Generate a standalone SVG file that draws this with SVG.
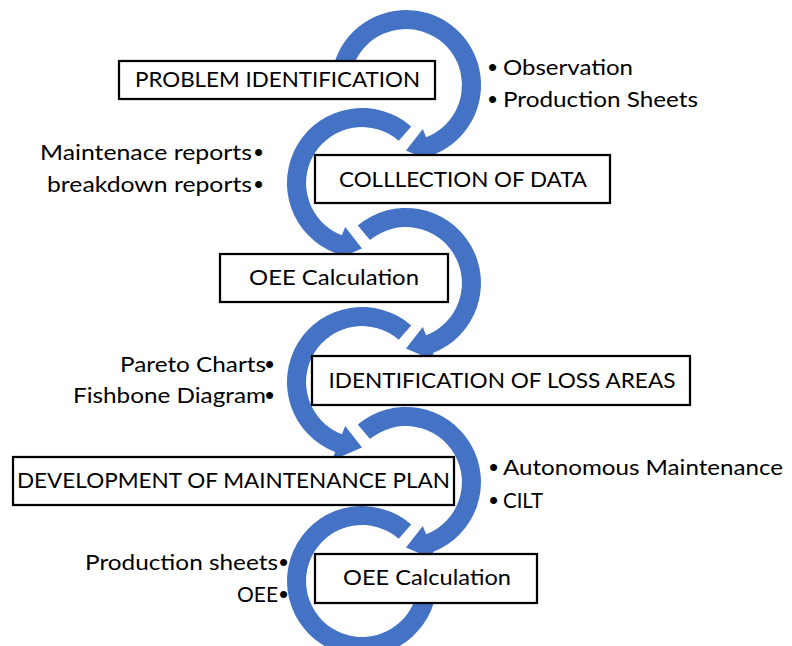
<svg xmlns="http://www.w3.org/2000/svg" width="792" height="646" viewBox="0 0 792 646">
  <style>
    .arc { fill: #4472C4; stroke: none; }
    .box { fill: #FFFFFF; stroke: #000000; stroke-width: 2.25; }
    .lbl { font-family: Lato, "Liberation Sans", sans-serif; font-size: 20.5px; fill: #000000; }
    .dot { font-family: "Liberation Sans", sans-serif; font-size: 26px; fill: #000000; }
    .mid { text-anchor: middle; }
    .end { text-anchor: end; }
  </style>

  <!-- circular arrows linking the steps (outer r 75, inner r 56) -->
  <g id="connectors">
    <!-- step 1 -> 2, clockwise about (406,85) -->
    <path id="arc1" class="arc" d="M331.3,78.5 A75,75 0 1 1 432.9,155.0 L436.1,163.4 L406,150.5 L422.8,128.9 L426.1,137.3 A56,56 0 1 0 350.2,80.1 Z"/>
    <!-- step 2 -> 3, counter-clockwise about (362,183) -->
    <path id="arc2" class="arc" d="M411.2,126.4 A75,75 0 1 0 335.1,253.0 L331.9,261.4 L362,248.5 L345.2,226.9 L341.9,235.3 A56,56 0 1 1 398.7,140.7 Z"/>
    <!-- step 3 -> 4, clockwise about (406,283) -->
    <path id="arc3" class="arc" d="M357.8,225.5 A75,75 0 1 1 432.9,353.0 L436.1,361.4 L406,348.5 L422.8,326.9 L426.1,335.3 A56,56 0 1 0 370.0,240.1 Z"/>
    <!-- step 4 -> 5, counter-clockwise about (362,382) -->
    <path id="arc4" class="arc" d="M411.2,325.4 A75,75 0 1 0 335.1,452.0 L331.9,460.4 L362,447.5 L345.2,425.9 L341.9,434.3 A56,56 0 1 1 398.7,339.7 Z"/>
    <!-- step 5 -> 6, clockwise about (406,482) -->
    <path id="arc5" class="arc" d="M357.8,424.5 A75,75 0 1 1 432.9,552.0 L436.1,560.4 L406,547.5 L422.8,525.9 L426.1,534.3 A56,56 0 1 0 370.0,439.1 Z"/>
    <!-- closing ring about (362,581) -->
    <path id="arc6" class="arc" d="M411.2,524.4 A75,75 0 1 0 435.9,594.0 L417.2,590.7 A56,56 0 1 1 398.7,538.7 Z"/>
  </g>

  <g id="step1">
    <rect class="box" x="119" y="61" width="316" height="38"/>
    <text class="lbl mid" x="277.5" y="87" textLength="285" lengthAdjust="spacingAndGlyphs">PROBLEM IDENTIFICATION</text>
    <text class="dot" x="488" y="76">•</text>
    <text class="lbl" x="503" y="75" textLength="130" lengthAdjust="spacingAndGlyphs">Observation</text>
    <text class="dot" x="488" y="108">•</text>
    <text class="lbl" x="503" y="107" textLength="195" lengthAdjust="spacingAndGlyphs">Production Sheets</text>
  </g>

  <g id="step2">
    <rect class="box" x="315" y="155" width="295" height="48"/>
    <text class="lbl mid" x="463" y="187" textLength="248" lengthAdjust="spacingAndGlyphs">COLLLECTION OF DATA</text>
    <text class="lbl end" x="252" y="160" textLength="212" lengthAdjust="spacingAndGlyphs">Maintenace reports</text>
    <text class="dot" x="254" y="161">•</text>
    <text class="lbl end" x="252" y="192" textLength="205" lengthAdjust="spacingAndGlyphs">breakdown reports</text>
    <text class="dot" x="254" y="193">•</text>
  </g>

  <g id="step3">
    <rect class="box" x="220" y="254" width="228" height="48"/>
    <text class="lbl mid" x="334" y="285" textLength="170" lengthAdjust="spacingAndGlyphs">OEE Calculation</text>
  </g>

  <g id="step4">
    <rect class="box" x="312" y="356" width="378" height="49"/>
    <text class="lbl mid" x="502" y="388" textLength="347" lengthAdjust="spacingAndGlyphs">IDENTIFICATION OF LOSS AREAS</text>
    <text class="lbl end" x="266" y="372" textLength="146" lengthAdjust="spacingAndGlyphs">Pareto Charts</text>
    <text class="dot" x="265" y="373">•</text>
    <text class="lbl end" x="266" y="403" textLength="193" lengthAdjust="spacingAndGlyphs">Fishbone Diagram</text>
    <text class="dot" x="265" y="404">•</text>
  </g>

  <g id="step5">
    <rect class="box" x="13" y="457" width="441" height="48"/>
    <text class="lbl mid" x="233.5" y="488" textLength="433" lengthAdjust="spacingAndGlyphs">DEVELOPMENT OF MAINTENANCE PLAN</text>
    <text class="dot" x="489" y="476">•</text>
    <text class="lbl" x="503" y="475" textLength="280" lengthAdjust="spacingAndGlyphs">Autonomous Maintenance</text>
    <text class="dot" x="489" y="509">•</text>
    <text class="lbl" x="503" y="508" textLength="40" lengthAdjust="spacingAndGlyphs">CILT</text>
  </g>

  <g id="step6">
    <rect class="box" x="315" y="554" width="222" height="49"/>
    <text class="lbl mid" x="427" y="585" textLength="168" lengthAdjust="spacingAndGlyphs">OEE Calculation</text>
    <text class="lbl end" x="278" y="570" textLength="193" lengthAdjust="spacingAndGlyphs">Production sheets</text>
    <text class="dot" x="279" y="571">•</text>
    <text class="lbl end" x="278" y="602" textLength="41" lengthAdjust="spacingAndGlyphs">OEE</text>
    <text class="dot" x="279" y="603">•</text>
  </g>
</svg>
